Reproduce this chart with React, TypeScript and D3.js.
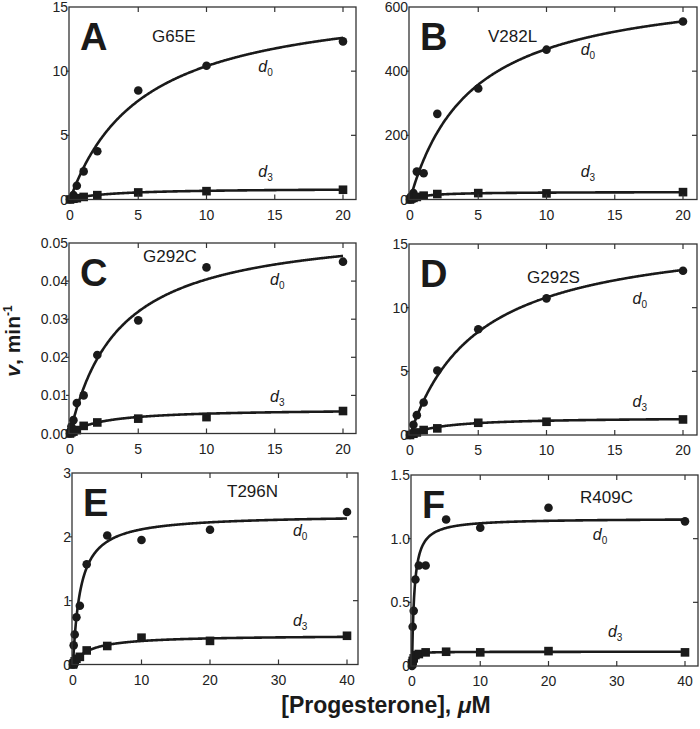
import React from 'react';
import * as d3 from 'd3';

// ---------- data ----------
const panelLetters = ['A', 'B', 'C', 'D', 'E', 'F'];
const mutants = ['G65E', 'V282L', 'G292C', 'G292S', 'T296N', 'R409C'];

const concA = [0, 0.25, 0.5, 1, 2, 5, 10, 20];
const d0A = [0.02, 0.35, 1.07, 2.19, 3.76, 8.49, 10.42, 12.32];
const d3A = [0, 0.06, 0.1, 0.2, 0.34, 0.55, 0.65, 0.76];

const concB = [0, 0.1, 0.25, 0.5, 1, 2, 5, 10, 20];
const d0B = [0, 10, 20, 87, 82, 267, 346, 467, 555];
const d3B = [0, 3, 5, 8, 12, 17, 20, 19, 23];

const concC = [0, 0.1, 0.25, 0.5, 1, 2, 5, 10, 20];
const d0C = [0, 0.0018, 0.0035, 0.008, 0.01, 0.0206, 0.0297, 0.0436, 0.0451];
const d3C = [0, 0.0003, 0.0005, 0.0009, 0.002, 0.0029, 0.0039, 0.0043, 0.0059];

const concD = [0, 0.25, 0.5, 1, 2, 5, 10, 20];
const d0D = [0, 0.8, 1.56, 2.55, 5.06, 8.31, 10.73, 12.9];
const d3D = [0, 0.1, 0.2, 0.39, 0.52, 0.96, 1.04, 1.22];

const concE = [0, 0.1, 0.25, 0.5, 1, 2, 5, 10, 20, 40];
const d0E = [0, 0.3, 0.47, 0.74, 0.92, 1.57, 2.02, 1.95, 2.11, 2.39];
const d3E = [0, 0.02, 0.05, 0.09, 0.12, 0.22, 0.29, 0.42, 0.37, 0.45];

const concF = [0, 0.1, 0.25, 0.5, 1, 2, 5, 10, 20, 40];
const d0F = [0, 0.308, 0.433, 0.679, 0.789, 0.789, 1.151, 1.086, 1.243, 1.136];
const d3F = [0.02, 0.04, 0.06, 0.086, 0.094, 0.107, 0.112, 0.107, 0.117, 0.107];

// Michaelis-Menten fit parameters [Vmax, Km]
const fitD0 = [[16, 5.4], [680, 4.5], [0.055, 3.6], [16.2, 5], [2.35, 1.1], [1.16, 0.35]];
const fitD3 = [[0.88, 3], [24, 1.2], [0.0065, 2.5], [1.4, 2.5], [0.46, 2.5], [0.112, 0.15]];

const xTicks20 = [0, 5, 10, 15, 20];
const xTicks40 = [0, 10, 20, 30, 40];
const yTicksA = [0, 5, 10, 15];
const yTicksB = [0, 200, 400, 600];
const yTicksC = [0, 0.01, 0.02, 0.03, 0.04, 0.05];
const yTicksD = [0, 5, 10, 15];
const yTicksE = [0, 1, 2, 3];
const yTicksF = [0, 0.5, 1.0, 1.5];
const yLabelsC = ['0.00', '0.01', '0.02', '0.03', '0.04', '0.05'];
const yLabelsF = ['0', '0.5', '1.0', '1.5'];

const yMax = [15, 600, 0.05, 15, 3, 1.5];
const xMax = [20, 20, 20, 20, 40, 40];

// label anchor positions in data coords: [x, y] for d0 and d3
const d0Pos = [[13.8, 9.9], [12.5, 450], [14.65, 0.0389], [16.3, 10.3], [32.1, 2.01], [26.5, 0.99]];
const d3Pos = [[13.8, 1.72], [12.5, 69], [14.65, 0.0082], [16.3, 2.2], [32.1, 0.61], [28.7, 0.23]];

// ---------- layout ----------
const frames = [
  { l: 69, r: 356, t: 7, b: 199.5, x0: 70, x1: 343 },
  { l: 409, r: 697, t: 7, b: 199.5, x0: 410, x1: 683 },
  { l: 69, r: 356, t: 243, b: 433.5, x0: 70, x1: 343 },
  { l: 409, r: 697, t: 244, b: 435, x0: 410, x1: 683 },
  { l: 72, r: 358, t: 473, b: 664.5, x0: 73, x1: 347 },
  { l: 411, r: 698, t: 475, b: 666, x0: 412, x1: 685 },
];
const mutantOffset = [[83, 35], [79, 35], [74, 19], [118, 39], [155, 24], [169, 28]];

const panels = [
  { conc: concA, d0: d0A, d3: d3A, xt: xTicks20, yt: yTicksA, yl: null },
  { conc: concB, d0: d0B, d3: d3B, xt: xTicks20, yt: yTicksB, yl: null },
  { conc: concC, d0: d0C, d3: d3C, xt: xTicks20, yt: yTicksC, yl: yLabelsC },
  { conc: concD, d0: d0D, d3: d3D, xt: xTicks20, yt: yTicksD, yl: null },
  { conc: concE, d0: d0E, d3: d3E, xt: xTicks40, yt: yTicksE, yl: null },
  { conc: concF, d0: d0F, d3: d3F, xt: xTicks40, yt: yTicksF, yl: yLabelsF },
];

const INK = '#1a1a1a';
const FRAME = '#333';
const FONT = 'Liberation Sans, Arial, Helvetica, sans-serif';

function Panel({ i }: { i: number }) {
  const p = panels[i];
  const f = frames[i];
  const xm = xMax[i];
  const x = d3.scaleLinear().domain([0, xm]).range([f.x0, f.x1]);
  const y = d3.scaleLinear().domain([0, yMax[i]]).range([f.b, f.t]);
  const mm = (V: number, K: number) => (c: number) => (V * c) / (K + c);
  const samples = d3.range(0, 401).map((k) => (k / 400) * xm);
  const curve0 = mm(fitD0[i][0], fitD0[i][1]);
  const curve3 = mm(fitD3[i][0], fitD3[i][1]);
  const path0 = d3.line<number>().x((c) => x(c)).y((c) => y(curve0(c)))(samples);
  const path3 = d3.line<number>().x((c) => x(c)).y((c) => y(curve3(c)))(samples);
  const tickLen = 5;
  return (
    <g>
      <path d={path0 || ''} fill="none" stroke={INK} strokeWidth={2.6} />
      <path d={path3 || ''} fill="none" stroke={INK} strokeWidth={2.6} />
      {p.conc.map((c, k) => (
        <circle key={'c' + k} cx={x(c)} cy={y(p.d0[k])} r={4.3} fill={INK} />
      ))}
      {p.conc.map((c, k) => (
        <rect key={'s' + k} x={x(c) - 4.3} y={y(p.d3[k]) - 4.3} width={8.6} height={8.6} fill={INK} />
      ))}
      <rect x={f.l} y={f.t} width={f.r - f.l} height={f.b - f.t} fill="none" stroke={FRAME} strokeWidth={1.3} />
      {p.xt.map((t) => (
        <g key={'xt' + t}>
          {t !== 0 && (
            <>
              <line x1={x(t)} x2={x(t)} y1={f.b} y2={f.b - tickLen} stroke={FRAME} strokeWidth={1.2} />
              <line x1={x(t)} x2={x(t)} y1={f.t} y2={f.t + tickLen} stroke={FRAME} strokeWidth={1.2} />
            </>
          )}
          <text x={x(t)} y={f.b + 20} textAnchor="middle" fontSize={14} fontFamily={FONT} fill="#222">
            {t}
          </text>
        </g>
      ))}
      {p.yt.map((t, k) => (
        <g key={'yt' + k}>
          {k !== 0 && k !== p.yt.length - 1 && (
            <>
              <line x1={f.l} x2={f.l - 3} y1={y(t)} y2={y(t)} stroke={FRAME} strokeWidth={1.2} />
              <line x1={f.r} x2={f.r - tickLen} y1={y(t)} y2={y(t)} stroke={FRAME} strokeWidth={1.2} />
            </>
          )}
          <text x={f.l - 1} y={y(t)} dy="0.36em" textAnchor="end" fontSize={14} fontFamily={FONT} fill="#222">
            {p.yl ? p.yl[k] : String(t)}
          </text>
        </g>
      ))}
      <text x={f.l + 11} y={f.t + 43} fontSize={38} fontWeight="bold" fontFamily={FONT} fill={INK}>
        {panelLetters[i]}
      </text>
      <text x={f.l + mutantOffset[i][0]} y={f.t + mutantOffset[i][1]} fontSize={17} fontFamily={FONT} fill={INK}>
        {mutants[i]}
      </text>
      <text x={x(d0Pos[i][0])} y={y(d0Pos[i][1])} fontSize={16} fontStyle="italic" fontFamily={FONT} fill={INK}>
        d<tspan fontSize={10} fontStyle="normal" dy={4}>0</tspan>
      </text>
      <text x={x(d3Pos[i][0])} y={y(d3Pos[i][1])} fontSize={16} fontStyle="italic" fontFamily={FONT} fill={INK}>
        d<tspan fontSize={10} fontStyle="normal" dy={4}>3</tspan>
      </text>
    </g>
  );
}

export default function App() {
  return (
    <div>
      <style>{`body{margin:0;background:#fff}`}</style>
      <svg width={700} height={729} style={{ display: 'block' }}>
        <rect width={700} height={729} fill="#fff" />
        {panels.map((_, i) => (
          <Panel key={i} i={i} />
        ))}
        <text
          transform="translate(20,341) rotate(-90)"
          textAnchor="middle"
          fontSize={21}
          fontWeight="bold"
          fontFamily={FONT}
          fill={INK}
        >
          <tspan fontStyle="italic">v</tspan>, min<tspan fontSize={12} dy={-8}>-1</tspan>
        </text>
        <text x={386} y={713} textAnchor="middle" fontSize={23} fontWeight="bold" fontFamily={FONT} fill={INK}>
          [Progesterone], <tspan fontStyle="italic">μ</tspan>M
        </text>
      </svg>
    </div>
  );
}
